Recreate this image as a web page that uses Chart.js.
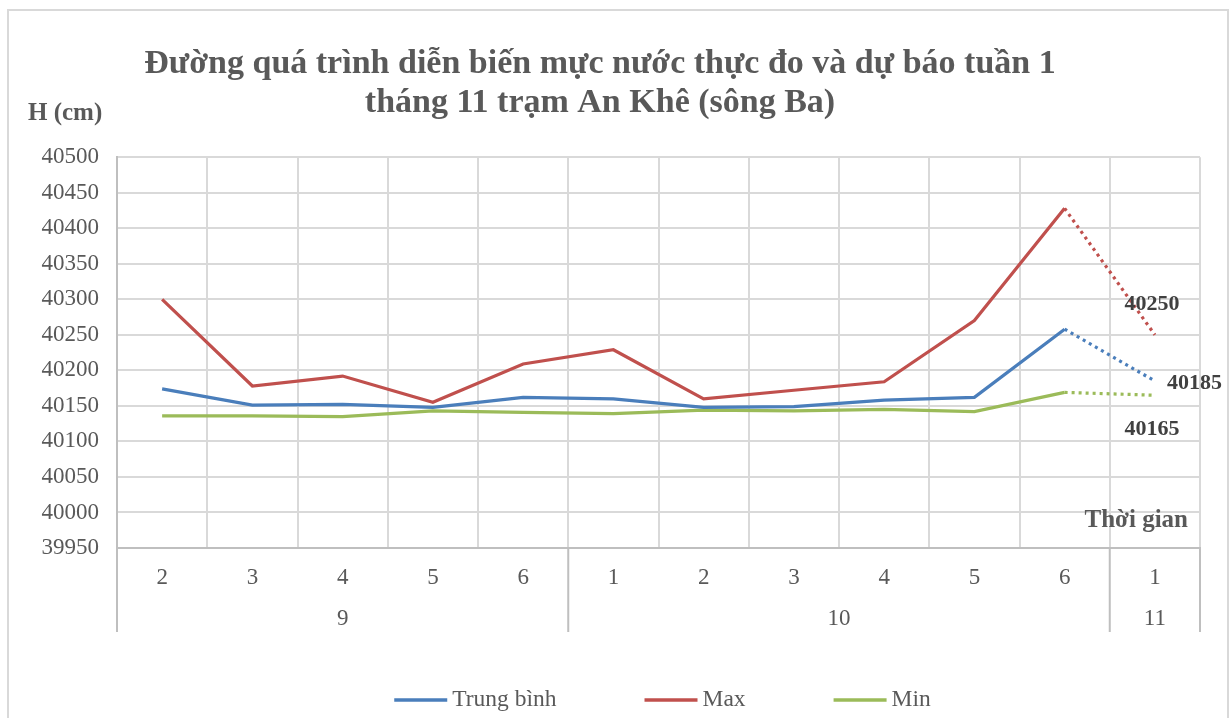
<!DOCTYPE html>
<html>
<head>
<meta charset="utf-8">
<script src="https://cdn.jsdelivr.net/npm/chart.js@4.4.1/dist/chart.umd.min.js"></script>
<style>
  html, body { margin: 0; padding: 0; background: #fff; }
  #wrap { width: 1230px; height: 718px; position: relative; }
</style>
</head>
<body>
<div id="wrap"><canvas id="myChart"></canvas></div>
<script>
const dayLabels = ['2', '3', '4', '5', '6', '1', '2', '3', '4', '5', '6', '1'];
const monthLabels = ['9', '10', '11'];
const monthSpans = [5, 6, 1];
const trungBinh = [40174, 40151, 40152, 40148, 40162, 40160, 40148, 40149, 40158, 40162, 40258, 40185];
const maxVals = [40300, 40178, 40192, 40155, 40209, 40229, 40160, 40172, 40184, 40270, 40428, 40250];
const minVals = [40136, 40136, 40135, 40143, 40141, 40139, 40144, 40143, 40145, 40142, 40169, 40165];

const serif = "'Liberation Serif', 'Times New Roman', serif";
const textGray = '#595959';
const lastIdx = dayLabels.length - 1;

// forecast part (last segment) is dotted
const dotted = ctx => ctx.p1DataIndex === lastIdx ? [3, 4] : undefined;

const extras = {
    id: 'extras',
    beforeDraw(chart) {
        const c = chart.ctx;
        c.save();
        c.strokeStyle = '#d9d9d9';
        c.lineWidth = 2;
        c.strokeRect(8, 10, 1220, 712);
        c.restore();
    },
    afterDraw(chart) {
        const c = chart.ctx;
        const area = chart.chartArea;
        const x = chart.scales.x;
        c.save();

        // month row under the day labels
        const edge = i => {
            if (i <= 0) return area.left;
            if (i >= dayLabels.length) return area.right;
            return (x.getPixelForValue(i - 1) + x.getPixelForValue(i)) / 2;
        };
        c.strokeStyle = '#bfbfbf';
        c.lineWidth = 2;
        c.fillStyle = textGray;
        c.font = '23px ' + serif;
        c.textAlign = 'center';
        c.textBaseline = 'middle';
        let start = 0;
        c.beginPath();
        c.moveTo(edge(0), area.bottom);
        c.lineTo(edge(0), area.bottom + 84);
        monthLabels.forEach((m, k) => {
            const end = start + monthSpans[k];
            c.moveTo(edge(end), area.bottom);
            c.lineTo(edge(end), area.bottom + 84);
            c.fillText(m, (edge(start) + edge(end)) / 2, area.bottom + 71);
            start = end;
        });
        c.stroke();

        // axis titles
        c.font = 'bold 25px ' + serif;
        c.textAlign = 'left';
        c.fillText('H (cm)', 28, 114);
        c.textAlign = 'right';
        c.fillText('Thời gian', area.right - 12, area.bottom - 27);

        // labels on the forecast points
        c.font = 'bold 22px ' + serif;
        c.fillStyle = '#404040';
        chart.data.datasets.forEach((ds, i) => {
            const el = chart.getDatasetMeta(i).data[lastIdx];
            const v = ds.data[lastIdx];
            if (ds.labelPos === 'above') {
                c.textAlign = 'center';
                c.fillText(v, el.x - 3, el.y - 31);
            } else if (ds.labelPos === 'right') {
                c.textAlign = 'left';
                c.fillText(v, el.x + 12, el.y + 2);
            } else {
                c.textAlign = 'center';
                c.fillText(v, el.x - 3, el.y + 34);
            }
        });

        // legend
        c.font = '23.5px ' + serif;
        c.fillStyle = textGray;
        c.textAlign = 'left';
        const lineLen = 53, gap = 5, space = 88;
        const items = chart.data.datasets.map(ds => ({
            ds, w: lineLen + gap + c.measureText(ds.label).width
        }));
        const total = items.reduce((s, it) => s + it.w, 0) + space * (items.length - 1);
        let lx = (area.left + area.right) / 2 - total / 2 + 4;
        const ly = 700;
        items.forEach(it => {
            c.strokeStyle = it.ds.borderColor;
            c.lineWidth = 3.5;
            c.beginPath();
            c.moveTo(lx, ly);
            c.lineTo(lx + lineLen, ly);
            c.stroke();
            c.fillText(it.ds.label, lx + lineLen + gap, ly);
            lx += it.w + space;
        });
        c.restore();
    }
};

const ctx = document.getElementById('myChart');

new Chart(ctx, {
    type: 'line',
    data: {
        labels: dayLabels,
        datasets: [
            {
                label: 'Trung bình',
                data: trungBinh,
                borderColor: '#4a7ebb',
                backgroundColor: '#4a7ebb',
                labelPos: 'right',
                segment: { borderDash: dotted }
            }, {
                label: 'Max',
                data: maxVals,
                borderColor: '#c0504d',
                backgroundColor: '#c0504d',
                labelPos: 'above',
                segment: { borderDash: dotted }
            }, {
                label: 'Min',
                data: minVals,
                borderColor: '#9bbb59',
                backgroundColor: '#9bbb59',
                labelPos: 'below',
                segment: { borderDash: dotted }
            }
        ]
    },
    options: {
        responsive: true,
        maintainAspectRatio: false,
        animation: false,
        layout: {
            padding: { top: 0, left: 0, right: 30, bottom: 86 },
            autoPadding: false
        },
        elements: {
            line: { borderWidth: 3.2, tension: 0 },
            point: { radius: 0, hoverRadius: 0 }
        },
        plugins: {
            legend: { display: false },
            tooltip: { enabled: false },
            title: {
                display: true,
                text: ['Đường quá trình diễn biến mực nước thực đo và dự báo tuần 1',
                       'tháng 11 trạm An Khê (sông Ba)'],
                color: textGray,
                font: { family: serif, size: 34, weight: 'bold', lineHeight: 1.15 },
                padding: { top: 45, bottom: 34 }
            }
        },
        scales: {
            x: {
                offset: true,
                grid: { offset: true, color: '#d9d9d9', lineWidth: 2, drawTicks: false },
                border: { color: '#bfbfbf', width: 2 },
                ticks: { color: textGray, font: { family: serif, size: 23 }, padding: 16, maxRotation: 0, autoSkip: false },
                afterFit: s => { s.height = 84; }
            },
            y: {
                min: 39950,
                max: 40500,
                grid: { color: '#d9d9d9', lineWidth: 2, drawTicks: false },
                border: { color: '#bfbfbf', width: 2 },
                ticks: {
                    stepSize: 50,
                    color: textGray,
                    font: { family: serif, size: 23 },
                    padding: 18,
                    callback: v => String(v)
                },
                afterFit: s => { s.width = 117; }
            }
        }
    },
    plugins: [extras]
});
</script>
</body>
</html>
